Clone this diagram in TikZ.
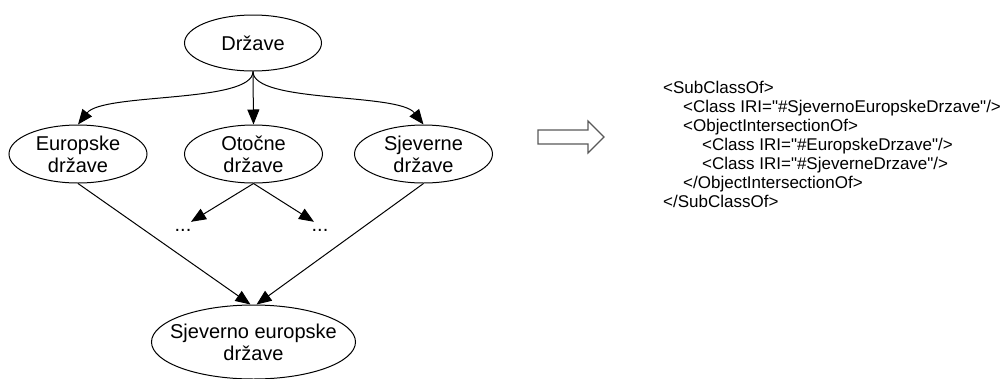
\documentclass[tikz,border=0pt]{standalone}
\usepackage{fontspec}
\setmainfont{Liberation Sans}
\newfontfamily\xmlfont{Liberation Sans}
\usetikzlibrary{shapes.geometric,arrows.meta}
\tikzset{
  ell/.style={draw=black, line width=1pt, ellipse, inner sep=0pt},
  lbl/.style={align=center, inner sep=0pt, font=\fontsize{20}{22}\selectfont},
  edge/.style={draw=black, line width=1pt, -{Triangle[length=15pt,width=12pt]}},
  xmltxt/.style={anchor=base west, inner sep=0pt, font=\xmlfont\fontsize{17}{19}\selectfont},
  hollow/.style={draw=black!65, line width=1.2pt, fill=white, line join=miter}
}
\begin{document}
\begin{tikzpicture}[x=1pt,y=-1pt]
\useasboundingbox (0,0) rectangle (1003,378);
% ellipses
\node[ell, minimum width=137pt, minimum height=56pt] (drzave) at (253,43) {};
\node[ell, minimum width=138pt, minimum height=58pt] (europske) at (78,154) {};
\node[ell, minimum width=138pt, minimum height=58pt] (otocne) at (253.5,154) {};
\node[ell, minimum width=138pt, minimum height=58pt] (sjeverne) at (423.5,154) {};
\node[ell, minimum width=204pt, minimum height=74pt] (se) at (253.5,342) {};
% labels
\node[lbl] (tdrzave) at (drzave) {Države};
\node[lbl] (teuropske) at (europske) {Europske\\države};
\node[lbl] (totocne) at (otocne) {Otočne\\države};
\node[lbl] (tsjeverne) at (sjeverne) {Sjeverne\\države};
\node[lbl] (tse) at (se) {Sjeverno europske\\države};
% dots
\node[lbl, minimum width=20pt, minimum height=16pt] (d1) at (183,230) {...};
\node[lbl, minimum width=20pt, minimum height=16pt] (d2) at (320,230) {...};
% edges
\draw[edge] (drzave.south) .. controls +(0,32) and +(25,-32) .. (europske.north);
\draw[edge] (drzave.south) -- (otocne.north);
\draw[edge] (drzave.south) .. controls +(0,32) and +(-25,-32) .. (sjeverne.north);
\draw[edge] (otocne.south) -- ([xshift=8pt]d1.north);
\draw[edge] (otocne.south) -- ([xshift=-6pt]d2.north);
\draw[edge] (europske.south) -- ([xshift=-3pt]se.north);
\draw[edge] (sjeverne.south) -- ([xshift=3pt]se.north);
% hollow arrow
\draw[hollow] (538,130) -- (588,130) -- (588,121) -- (604,137) -- (588,153) -- (588,144) -- (538,144) -- cycle;
% xml text
\node[xmltxt] (t1) at (663,93) {<SubClassOf>};
\node[xmltxt] (t2) at (683,112) {<Class IRI="\#SjevernoEuropskeDrzave"/>};
\node[xmltxt] (t3) at (683,131) {<ObjectIntersectionOf>};
\node[xmltxt] (t4) at (702,150) {<Class IRI="\#EuropskeDrzave"/>};
\node[xmltxt] (t5) at (702,169) {<Class IRI="\#SjeverneDrzave"/>};
\node[xmltxt] (t6) at (683,188) {</ObjectIntersectionOf>};
\node[xmltxt] (t7) at (663,207) {</SubClassOf>};
\end{tikzpicture}
\end{document}
